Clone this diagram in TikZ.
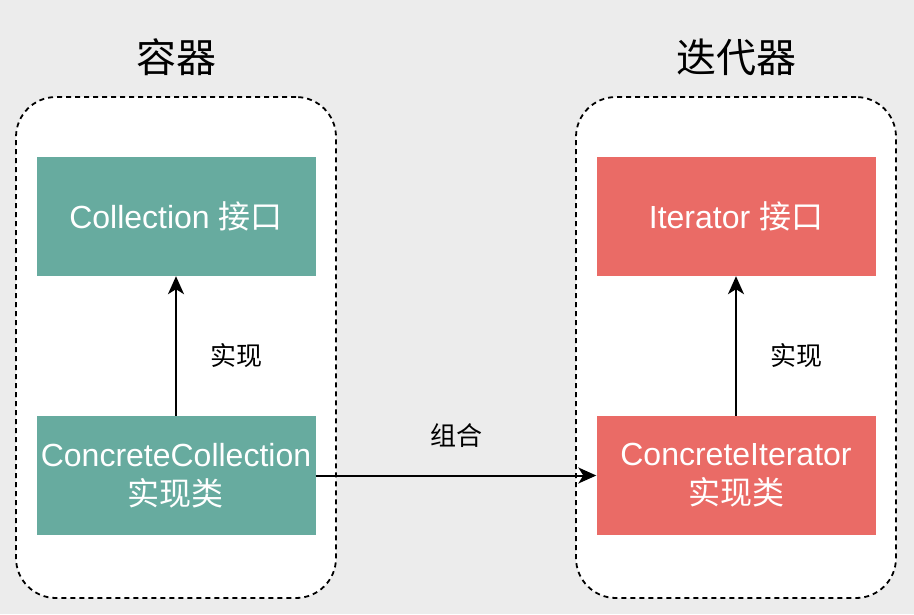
\documentclass[tikz,border=0pt]{standalone}
\usepackage{fontspec}
\setmainfont{Liberation Sans}
\newfontfamily\cjk{Noto Sans CJK SC}
\usetikzlibrary{arrows.meta}
\definecolor{tealbox}{HTML}{67AB9F}
\definecolor{redbox}{HTML}{EA6B66}
\definecolor{bggray}{HTML}{ECECEC}

\begin{document}
\begin{tikzpicture}[x=1pt, y=-1pt,
    group/.style={draw, line width=1.8pt, dash pattern=on 5pt off 4pt, fill=white,
      rounded corners=40pt, minimum width=320pt, minimum height=501pt},
    box/.style={inner sep=0pt, minimum width=279pt, minimum height=119pt, align=center,
      text=white, font=\fontsize{32}{39}\selectfont},
    title/.style={font=\cjk\fontsize{40}{44}\selectfont},
    lbl/.style={font=\cjk\fontsize{26}{30}\selectfont},
    link/.style={line width=2pt, -{Stealth[length=18pt,width=16pt,inset=5pt]}}]
  \fill[bggray] (0,0) rectangle (914,614);

  % two groups
  \node[group] (cont) at (176,347.5) {};
  \node[group] (iter) at (736,347.5) {};
  \node[title] (contT) at (176,57) {容器};
  \node[title] (iterT) at (736,57) {迭代器};

  % boxes
  \node[box, fill=tealbox] (coll) at (176,216.5) {Collection {\cjk 接口}};
  \node[box, fill=tealbox] (ccoll) at (176,475.5) {ConcreteCollection\\{\cjk 实现类}};
  \node[box, fill=redbox] (it) at (736,216.5) {Iterator {\cjk 接口}};
  \node[box, fill=redbox] (cit) at (736,475.5) {ConcreteIterator\\{\cjk 实现类}};

  \draw[link] (ccoll) -- (coll);
  \node[lbl] (impl1) at (236,356) {实现};
  \draw[link] (cit) -- (it);
  \node[lbl] (impl2) at (796,356) {实现};
  \draw[link] (ccoll) -- (cit);
  \node[lbl] (comb) at (456,436) {组合};
\end{tikzpicture}
\end{document}
